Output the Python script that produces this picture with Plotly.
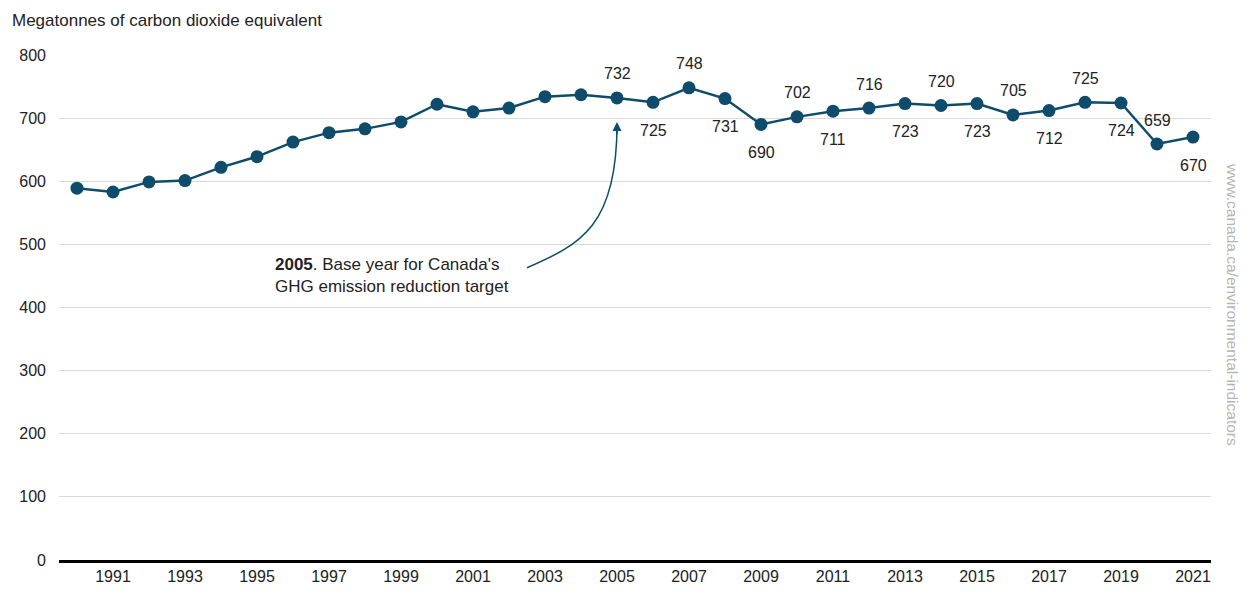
import plotly.graph_objects as go

years = list(range(1990, 2022))
emissions = [589, 583, 599, 601, 622, 639, 662, 677, 683, 694, 722, 710, 716, 734, 737,
             732, 725, 748, 731, 690, 702, 711, 716, 723, 720, 723, 705, 712, 725, 724, 659, 670]
# label position for labelled years (2005 onward): 1 = above, -1 = below
label_years = list(range(2005, 2022))
label_side = [1, -1, 1, -1, -1, 1, -1, 1, -1, 1, -1, 1, -1, 1, -1, 1, -1]
x_ticks = list(range(1991, 2022, 2))
y_ticks = [0, 100, 200, 300, 400, 500, 600, 700, 800]

COLOR = "#0f4c6b"
FONT = "Arial, Liberation Sans, sans-serif"

fig = go.Figure()
fig.add_trace(go.Scatter(
    x=years, y=emissions, mode="lines+markers",
    line=dict(color=COLOR, width=2.5),
    marker=dict(color=COLOR, size=13),
    hoverinfo="x+y", showlegend=False,
))

annotations = []
val = dict(zip(years, emissions))
for yr, side in zip(label_years, label_side):
    annotations.append(dict(
        x=yr, y=val[yr], xref="x", yref="y", text=str(val[yr]), showarrow=False,
        yshift=24 if side > 0 else -28,
        font=dict(size=16, color="#222222", family=FONT),
    ))

# annotation text
annotations.append(dict(
    x=1995.45, y=451, xref="x", yref="y", xanchor="left", yanchor="middle",
    text="<b>2005</b>. Base year for Canada's<br>GHG emission reduction target",
    showarrow=False, align="left",
    font=dict(size=17, color="#222222", family=FONT),
))
# arrow head
annotations.append(dict(
    x=2005, y=694, xref="x", yref="y", ax=0, ay=14, axref="pixel", ayref="pixel",
    text="", showarrow=True, arrowhead=2, arrowsize=1.2, arrowwidth=1.5, arrowcolor=COLOR,
))
# y-axis title
annotations.append(dict(
    x=-0.0426, y=1.069, xref="paper", yref="paper", xanchor="left", yanchor="middle",
    text="Megatonnes of carbon dioxide equivalent", showarrow=False,
    font=dict(size=17, color="#222222", family=FONT),
))
# watermark
annotations.append(dict(
    x=1.0182, y=0.505, xref="paper", yref="paper", xanchor="center", yanchor="middle",
    text="www.canada.ca/environmental-indicators", showarrow=False, textangle=90,
    font=dict(size=15.5, color="#b5b5b5", family=FONT),
))

fig.add_shape(
    type="path", xref="x", yref="y",
    path="M 2002.5,463 C 2004.0,500 2005,530 2005,690",
    line=dict(color=COLOR, width=1.5),
)

fig.update_layout(
    width=1242, height=600,
    margin=dict(l=59, r=31, t=55, b=40),
    paper_bgcolor="white", plot_bgcolor="white",
    font=dict(family=FONT, size=16, color="#222222"),
    annotations=annotations,
    xaxis=dict(
        range=[1989.5, 2021.5], tickmode="array", tickvals=x_ticks,
        ticktext=[str(t) for t in x_ticks], showgrid=False, zeroline=False,
        showline=True, linecolor="black", linewidth=3, ticks="",
        tickfont=dict(size=16, color="#222222"),
    ),
    yaxis=dict(
        range=[0, 800], tickmode="array", tickvals=y_ticks, showgrid=True,
        gridcolor="#d9d9d9", gridwidth=1, zeroline=False, showline=False, ticks="",
        ticklabelstandoff=12, tickfont=dict(size=16, color="#222222"),
    ),
)

fig.write_html("out.html")
